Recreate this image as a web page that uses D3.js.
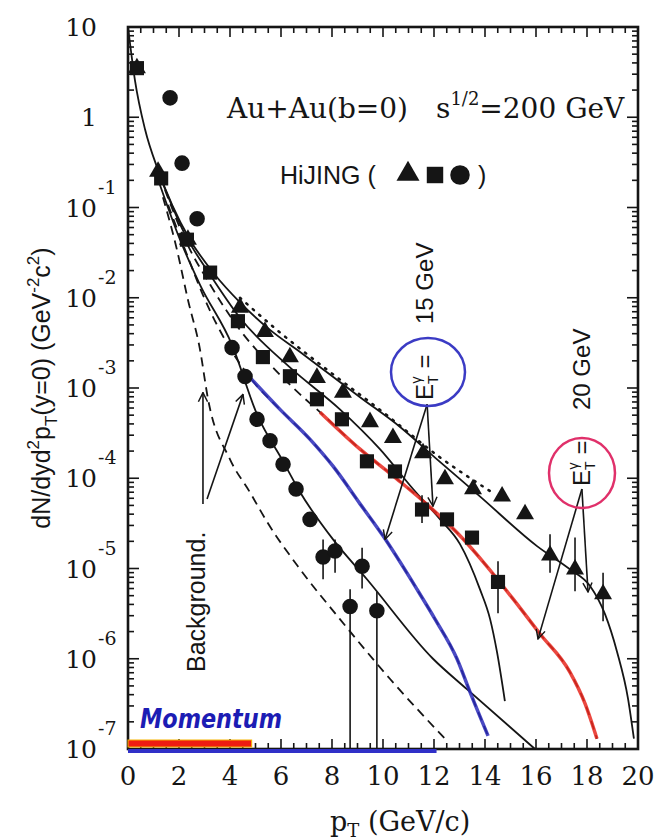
<!DOCTYPE html>
<html>
<head>
<meta charset="utf-8">
<script src="https://cdn.jsdelivr.net/npm/d3@7"></script>
<style>
  body { margin: 0; background: #fff; }
  svg { display: block; }
</style>
</head>
<body>
<div id="chart"></div>
<script>
// values: pT in GeV/c, yield dN/dyd2pT in GeV^-2 c^2
const xTicks = [0, 2, 4, 6, 8, 10, 12, 14, 16, 18, 20];
const yDecades = [1e1, 1, 1e-1, 1e-2, 1e-3, 1e-4, 1e-5, 1e-6, 1e-7];

// HIJING points
const triangles = [[0.35, 3.5], [1.18, 0.25], [2.35, 4.4e-2], [4.39, 7.8e-3], [5.37, 4.2e-3], [6.35, 2.2e-3],
  [7.41, 1.3e-3], [8.43, 8.9e-4], [9.49, 4.2e-4], [10.39, 2.8e-4], [11.57, 1.9e-4], [12.43, 9.8e-5],
  [13.53, 7.6e-5], [14.67, 6.3e-5], [15.57, 4.0e-5], [16.55, 1.4e-5], [17.53, 9.8e-6], [18.63, 5.2e-6]];
const squares = [[0.35, 3.5], [1.3, 0.21], [2.31, 4.4e-2], [3.22, 1.9e-2], [4.31, 5.5e-3], [5.29, 2.2e-3],
  [6.35, 1.35e-3], [7.41, 7.5e-4], [8.39, 4.5e-4], [9.37, 1.54e-4], [10.47, 1.19e-4], [11.53, 4.5e-5],
  [12.51, 3.5e-5], [13.49, 2.2e-5], [14.51, 7.1e-6]];
const circles = [[1.65, 1.64], [2.12, 0.31], [2.71, 7.5e-2], [4.08, 2.8e-3], [4.59, 1.34e-3], [5.06, 4.5e-4],
  [5.57, 2.6e-4], [6.08, 1.43e-4], [6.59, 7.6e-5], [7.14, 3.5e-5], [7.65, 1.34e-5], [8.12, 1.56e-5],
  [9.18, 1.06e-5], [8.71, 3.8e-6], [9.76, 3.4e-6]];

// error bars [x, low, high]
const errorBars = [[7.65, 7.6e-6, 2.1e-5], [8.12, 9e-6, 2.1e-5], [9.18, 6e-6, 1.7e-5],
  [8.71, 1e-7, 5.9e-6], [9.76, 1e-7, 5.5e-6], [11.53, 3.2e-5, 6.5e-5], [14.51, 3.2e-6, 1.2e-5],
  [16.55, 9e-6, 2.4e-5], [17.53, 5.6e-6, 2.2e-5], [18.63, 2.6e-6, 9e-6]];

// calculated curves
const solidTop = [[0, 10], [0.27, 2.6], [0.67, 0.73], [1.18, 0.26], [1.73, 0.107], [2.43, 4.4e-2],
  [3.41, 1.8e-2], [4.39, 8.9e-3], [5.57, 4.4e-3], [6.75, 2.5e-3], [7.92, 1.41e-3], [9.10, 7.9e-4],
  [10.67, 3.7e-4], [12.12, 1.62e-4], [13.80, 6.3e-5], [16.04, 1.77e-5], [17.33, 9.8e-6], [18.12, 6.4e-6],
  [18.71, 3.1e-6], [19.18, 1.19e-6], [19.61, 3.6e-7], [19.84, 1.3e-7]];
const solidMid = [[1.18, 0.25], [2.24, 5.0e-2], [3.22, 1.8e-2], [4.39, 6.0e-3], [6.35, 1.69e-3],
  [8.31, 5.8e-4], [9.88, 2.1e-4], [11.18, 7.6e-5], [12.24, 3.5e-5], [13.02, 1.86e-5], [13.80, 5.9e-6],
  [14.20, 2.75e-6], [14.47, 1.19e-6], [14.78, 3.4e-7]];
const solidLow = [[1.25, 0.179], [2.04, 4.4e-2], [2.82, 1.4e-2], [4.08, 3.0e-3], [5.06, 5.1e-4],
  [6.08, 1.54e-4], [6.75, 7.0e-5], [8.04, 2.1e-5], [9.37, 7.6e-6], [11.96, 1.0e-6], [13.29, 4.6e-7],
  [15.96, 1.0e-7]];
const dashed20 = [[1.45, 0.157], [2.24, 4.4e-2], [3.22, 1.4e-2], [4.39, 4.4e-3], [5.57, 1.82e-3],
  [6.75, 8.5e-4], [7.53, 5.4e-4], [9.10, 2.1e-4], [10.55, 9.8e-5], [11.84, 4.8e-5], [12.90, 2.5e-5],
  [14.0, 1.12e-5], [15.10, 4.6e-6], [16.16, 1.88e-6], [17.33, 7.1e-7], [17.92, 3.2e-7], [18.39, 1.3e-7]];
const dashed15 = [[1.57, 0.107], [2.24, 3.4e-2], [3.02, 9.5e-3], [3.92, 3.0e-3], [4.78, 1.31e-3],
  [5.96, 5.8e-4], [7.14, 2.7e-4], [8.04, 1.36e-4], [9.10, 5.2e-5], [10.0, 2.3e-5], [11.33, 5.9e-6],
  [12.04, 2.75e-6], [12.90, 1.0e-6], [13.41, 4.3e-7], [14.12, 1.4e-7]];
const background = [[1.37, 0.13], [1.92, 3.4e-2], [2.35, 9.5e-3], [2.82, 2.7e-3], [3.14, 7.5e-4],
  [4.0, 1.62e-4], [4.78, 7.0e-5], [5.45, 3.3e-5], [6.75, 9.8e-6], [8.31, 2.75e-6], [10.27, 6.0e-7],
  [12.43, 1.3e-7]];
const dotted = [[4.39, 1.0e-2], [5.84, 4.4e-3], [7.80, 1.6e-3], [10.0, 5.4e-4], [12.24, 1.7e-4],
  [14.20, 7.2e-5]];

// arrows [[x0, y0], [x1, y1]]
const arrowsBackground = [[[2.94, 5.2e-5], [2.94, 8.9e-4]], [[3.1, 5.9e-5], [4.51, 8.5e-4]]];
const arrows15 = [[[11.73, 6.6e-4], [10.08, 2.1e-5]], [[11.73, 6.6e-4], [11.96, 4.9e-5]]];
const arrows20 = [[[17.8, 7.6e-5], [16.08, 1.66e-6]], [[17.8, 7.6e-5], [18.04, 5.5e-6]]];

const W = 666, H = 840;
const svg = d3.select('#chart').append('svg').attr('width', W).attr('height', H);

const x = d3.scaleLinear().domain([0, 20]).range([128, 638]);
const y = d3.scaleLog().domain([1e-7, 10]).range([749, 27]);

const ink = '#151515';
const serif = "'DejaVu Serif', serif";
const sans = "'Liberation Sans', Arial, sans-serif";

svg.append('defs').append('marker')
  .attr('id', 'head')
  .attr('viewBox', '0 0 12 12')
  .attr('refX', 11).attr('refY', 6)
  .attr('markerWidth', 11).attr('markerHeight', 11)
  .attr('markerUnits', 'userSpaceOnUse')
  .attr('orient', 'auto')
  .append('path')
  .attr('d', 'M1,1 L11,6 L1,11')
  .attr('fill', 'none').attr('stroke', ink).attr('stroke-width', 1.6);

// ticks: minor every 0.5 on x, 2..9 per decade on y
const xMinor = d3.range(0, 20.01, 0.5);
const yMinor = [];
for (let e = -7; e < 1; e++) for (let m = 2; m <= 9; m++) yMinor.push(m * Math.pow(10, e));

const tickG = svg.append('g').attr('stroke', ink).attr('stroke-width', 1.6);
tickG.selectAll('.xb').data(xMinor).join('line')
  .attr('x1', d => x(d)).attr('x2', d => x(d))
  .attr('y1', y(1e-7)).attr('y2', d => y(1e-7) - (d % 2 === 0 ? 10 : 6));
tickG.selectAll('.xt').data(xMinor).join('line')
  .attr('x1', d => x(d)).attr('x2', d => x(d))
  .attr('y1', y(10)).attr('y2', d => y(10) + (d % 2 === 0 ? 10 : 6));
tickG.selectAll('.yl').data(yDecades.concat(yMinor)).join('line')
  .attr('y1', d => y(d)).attr('y2', d => y(d))
  .attr('x1', x(0)).attr('x2', d => x(0) + (yDecades.includes(d) ? 11 : 6));
tickG.selectAll('.yr').data(yDecades.concat(yMinor)).join('line')
  .attr('y1', d => y(d)).attr('y2', d => y(d))
  .attr('x1', x(20)).attr('x2', d => x(20) - (yDecades.includes(d) ? 11 : 6));

// tick labels
svg.append('g').selectAll('text').data(xTicks).join('text')
  .attr('x', d => x(d)).attr('y', 785)
  .attr('text-anchor', 'middle')
  .attr('font-family', serif).attr('font-size', 26).attr('fill', ink)
  .text(d => d);

const yl = svg.append('g').attr('font-family', serif).attr('fill', ink);
yDecades.forEach(v => {
  const e = Math.round(Math.log10(v));
  yl.append('text')
    .attr('x', 97).attr('y', y(v) + 9)
    .attr('text-anchor', 'end').attr('font-size', 25)
    .text(e === 0 ? '1' : '10');
  if (e < 0) {
    yl.append('text')
      .attr('x', 98).attr('y', y(v) - 14)
      .attr('font-size', 19)
      .text('-' + Math.abs(e));
  }
});

// curves
const line = d3.line().x(d => x(d[0])).y(d => y(d[1])).curve(d3.curveMonotoneX);
const curves = svg.append('g').attr('fill', 'none').attr('stroke', ink).attr('stroke-width', 1.8);
curves.append('path').attr('d', line(solidTop));
curves.append('path').attr('d', line(solidMid));
curves.append('path').attr('d', line(solidLow));
curves.append('path').attr('d', line(dashed20)).attr('stroke-dasharray', '9,6');
curves.append('path').attr('d', line(dashed15)).attr('stroke-dasharray', '9,6');
curves.append('path').attr('d', line(background)).attr('stroke-dasharray', '9,6');
curves.append('path').attr('d', line(dotted)).attr('stroke-dasharray', '1.5,7').attr('stroke-linecap', 'round').attr('stroke-width', 2.5);

// hand highlighting on top of the dashed curves
svg.append('path').attr('d', line(dashed20.filter(d => d[0] >= 7.5)))
  .attr('fill', 'none').attr('stroke', '#e8281e').attr('stroke-width', 3.5).attr('opacity', 0.85);
svg.append('path').attr('d', line(dashed15.filter(d => d[0] >= 4.7)))
  .attr('fill', 'none').attr('stroke', '#2a2ab8').attr('stroke-width', 3.5).attr('opacity', 0.85);

// error bars
svg.append('g').attr('stroke', ink).attr('stroke-width', 1.6)
  .selectAll('line').data(errorBars).join('line')
  .attr('x1', d => x(d[0])).attr('x2', d => x(d[0]))
  .attr('y1', d => y(d[1])).attr('y2', d => y(d[2]));

// markers
const drawSym = (data, type, size) => svg.append('g').attr('fill', ink)
  .selectAll('path').data(data).join('path')
  .attr('transform', d => `translate(${x(d[0])},${y(d[1])})`)
  .attr('d', d3.symbol().type(type).size(size)());
drawSym(triangles, d3.symbolTriangle, 140);
drawSym(squares, d3.symbolSquare, 200);
drawSym(circles, d3.symbolCircle, 190);

// arrows
const arrowG = svg.append('g').attr('stroke', ink).attr('stroke-width', 1.6);
arrowsBackground.concat(arrows15, arrows20).forEach(a => {
  arrowG.append('line')
    .attr('x1', x(a[0][0])).attr('y1', y(a[0][1]))
    .attr('x2', x(a[1][0])).attr('y2', y(a[1][1]))
    .attr('marker-end', 'url(#head)');
});

// frame
svg.append('rect')
  .attr('x', x(0)).attr('y', y(10))
  .attr('width', x(20) - x(0)).attr('height', y(1e-7) - y(10))
  .attr('fill', 'none').attr('stroke', ink).attr('stroke-width', 2.6);

// title lines
const t1 = svg.append('text').attr('x', 227).attr('y', 118)
  .attr('font-family', serif).attr('font-size', 28).attr('fill', ink);
t1.append('tspan').text('Au+Au(b=0)');
t1.append('tspan').attr('x', 436).text('s');
t1.append('tspan').attr('dy', -13).attr('font-size', 18).text('1/2');
t1.append('tspan').attr('dy', 13).text('=200 GeV');

svg.append('text').attr('x', 280).attr('y', 184)
  .attr('font-family', sans).attr('font-size', 25).attr('fill', ink)
  .text('HiJING (');
svg.append('text').attr('x', 478).attr('y', 184)
  .attr('font-family', sans).attr('font-size', 25).attr('fill', ink)
  .text(')');
const legendSyms = [[408, d3.symbolTriangle, 230], [435, d3.symbolSquare, 270], [460, d3.symbolCircle, 300]];
svg.append('g').attr('fill', ink).selectAll('path').data(legendSyms).join('path')
  .attr('transform', d => `translate(${d[0]},${d[1] === d3.symbolTriangle ? 174 : 175})`)
  .attr('d', d => d3.symbol().type(d[1]).size(d[2])());

// axis titles
const xt = svg.append('text').attr('x', 330).attr('y', 831)
  .attr('font-family', serif).attr('font-size', 27).attr('fill', ink);
xt.append('tspan').text('p');
xt.append('tspan').attr('dy', 6).attr('font-size', 18).text('T');
xt.append('tspan').attr('dy', -6).text(' (GeV/c)');

const ytl = svg.append('text')
  .attr('transform', 'translate(50,388) rotate(-90)')
  .attr('text-anchor', 'middle')
  .attr('font-family', sans).attr('font-size', 25).attr('fill', ink);
ytl.append('tspan').text('dN/dyd');
ytl.append('tspan').attr('dy', -11).attr('font-size', 17).text('2');
ytl.append('tspan').attr('dy', 11).text('p');
ytl.append('tspan').attr('dy', 7).attr('font-size', 17).text('T');
ytl.append('tspan').attr('dy', -7).text('(y=0) (GeV');
ytl.append('tspan').attr('dy', -11).attr('font-size', 17).text('-2');
ytl.append('tspan').attr('dy', 11).text('c');
ytl.append('tspan').attr('dy', -11).attr('font-size', 17).text('2');
ytl.append('tspan').attr('dy', 11).text(')');

// annotations
svg.append('text')
  .attr('transform', 'translate(205,672) rotate(-90)')
  .attr('font-family', sans).attr('font-size', 25).attr('fill', ink)
  .text('Background.');

const eLabel = (px, py, gev) => {
  const t = svg.append('text')
    .attr('transform', `translate(${px},${py}) rotate(-90)`)
    .attr('font-family', sans).attr('font-size', 24).attr('fill', ink);
  t.append('tspan').text('E');
  t.append('tspan').attr('dy', 5).attr('font-size', 14).text('T');
  t.append('tspan').attr('dy', -17).attr('dx', -8).attr('font-size', 14).text('γ');
  t.append('tspan').attr('dy', 12).attr('dx', 8).text('=');
  svg.append('text')
    .attr('transform', `translate(${px},${py - 76}) rotate(-90)`)
    .attr('font-family', sans).attr('font-size', 24).attr('fill', ink)
    .text(gev + ' GeV');
};
eLabel(433, 400, 15);
eLabel(590, 486, 20);

svg.append('ellipse').attr('cx', 428).attr('cy', 372).attr('rx', 37).attr('ry', 34)
  .attr('fill', 'none').attr('stroke', '#3b3bc4').attr('stroke-width', 2.5);
svg.append('ellipse').attr('cx', 582).attr('cy', 473).attr('rx', 33).attr('ry', 35)
  .attr('fill', 'none').attr('stroke', '#e0306a').attr('stroke-width', 2.5);

// hand-written marks along the x axis
svg.append('rect').attr('x', x(0)).attr('y', 740).attr('width', x(4.85) - x(0)).attr('height', 7)
  .attr('fill', '#ee1c12').attr('stroke', '#f5b400').attr('stroke-width', 1);
svg.append('line').attr('x1', x(0)).attr('x2', x(12.1)).attr('y1', 751).attr('y2', 751)
  .attr('stroke', '#3030c8').attr('stroke-width', 4);
svg.append('text').attr('x', 140).attr('y', 728)
  .attr('font-family', "'DejaVu Sans', sans-serif").attr('font-weight', 'bold').attr('font-style', 'italic')
  .attr('font-size', 27).attr('fill', '#1c1cb4')
  .attr('textLength', 142).attr('lengthAdjust', 'spacingAndGlyphs')
  .text('Momentum');
</script>
</body>
</html>
